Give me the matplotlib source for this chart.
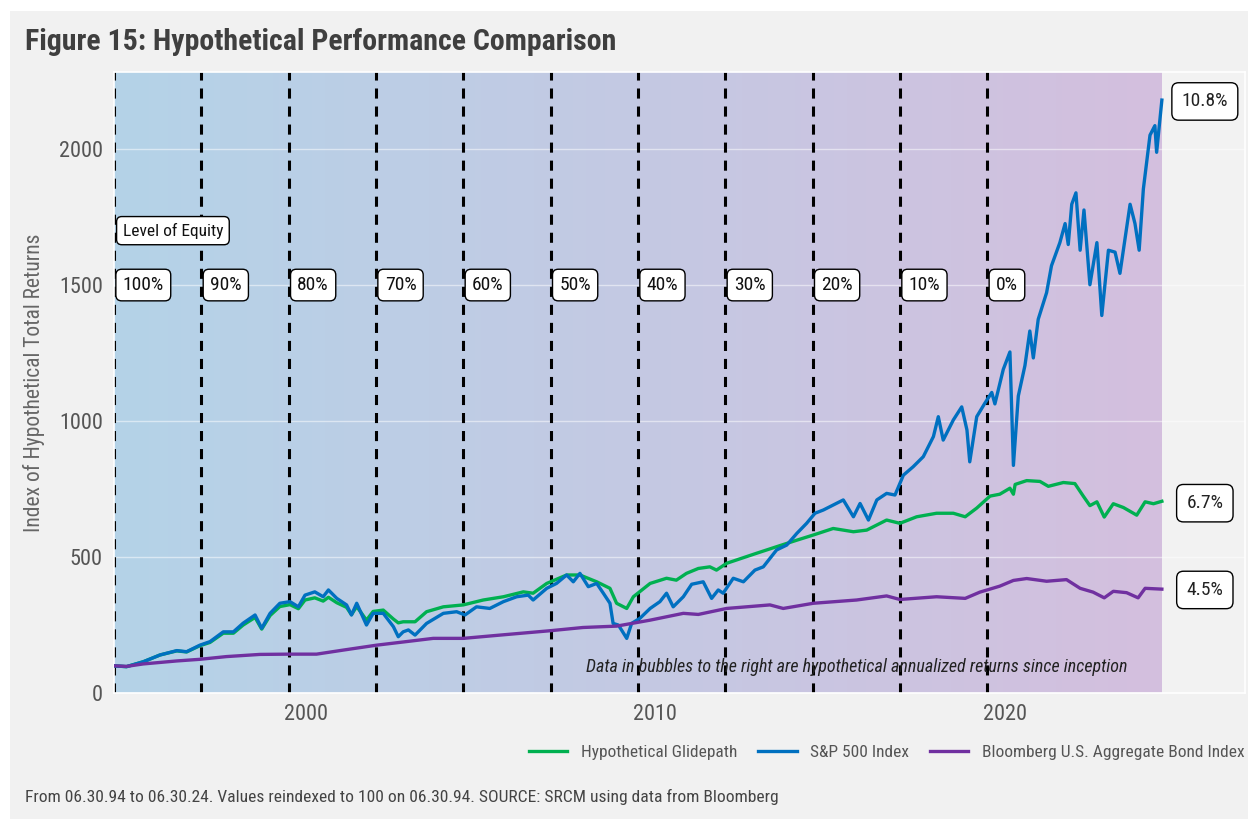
import matplotlib.pyplot as plt
import numpy as np
from matplotlib.patches import Rectangle
from matplotlib import font_manager

names = set(f.name for f in font_manager.fontManager.ttflist)
cands = ['DejaVu Sans Condensed', 'Roboto Condensed', 'Liberation Sans Narrow', 'Open Sans Condensed', 'Roboto']
fams = [c for c in cands if c in names] + ['DejaVu Sans']
plt.rcParams['font.family'] = fams

# values (decimal year, index level)
sp_years = [1994.5, 1994.86, 1995.34, 1995.82, 1996.3, 1996.58, 1996.96, 1997.25, 1997.63, 1997.92,
            1998.2, 1998.54, 1998.73, 1998.97, 1999.25, 1999.54, 1999.78, 1999.97, 2000.25, 2000.49,
            2000.64, 2000.88, 2001.16, 2001.3, 2001.45, 2001.73, 2001.92, 2002.21, 2002.5, 2002.64,
            2002.78, 2002.93, 2003.12, 2003.45, 2003.93, 2004.31, 2004.55, 2004.88, 2005.26, 2005.65,
            2006.03, 2006.36, 2006.5, 2006.89, 2007.17, 2007.46, 2007.65, 2007.84, 2008.08, 2008.32,
            2008.51, 2008.7, 2008.79, 2008.94, 2009.03, 2009.18, 2009.32, 2009.56, 2009.85, 2010.13,
            2010.32, 2010.51, 2010.8, 2011.04, 2011.37, 2011.61, 2011.8, 2011.94, 2012.23, 2012.52,
            2012.85, 2013.09, 2013.47, 2013.76, 2014.05, 2014.33, 2014.57, 2014.81, 2015.09, 2015.38,
            2015.67, 2015.86, 2016.1, 2016.34, 2016.62, 2016.86, 2017.1, 2017.38, 2017.67, 2017.96,
            2018.1, 2018.24, 2018.53, 2018.77, 2018.92, 2019.0, 2019.2, 2019.43, 2019.63, 2019.72,
            2019.96, 2020.15, 2020.25, 2020.39, 2020.58, 2020.72, 2020.82, 2020.96, 2021.2, 2021.34,
            2021.58, 2021.73, 2021.82, 2021.92, 2022.04, 2022.16, 2022.27, 2022.44, 2022.64, 2022.78,
            2022.97, 2023.16, 2023.3, 2023.59, 2023.73, 2023.85, 2023.97, 2024.16, 2024.3, 2024.35,
            2024.5]
sp_vals = [100, 97, 115, 140, 156, 152, 176, 189, 225, 225,
           257, 287, 238, 293, 330, 336, 317, 360, 372, 354,
           379, 348, 324, 287, 330, 250, 293, 293, 244, 207,
           225, 232, 213, 256, 293, 299, 287, 317, 311, 336,
           354, 360, 342, 385, 403, 434, 409, 440, 391, 403,
           367, 330, 256, 250, 232, 201, 256, 275, 311, 336,
           367, 317, 354, 400, 409, 348, 379, 367, 422, 409,
           452, 464, 526, 544, 587, 624, 661, 673, 691, 710,
           648, 697, 636, 710, 734, 728, 801, 832, 869, 943,
           1016, 930, 1004, 1052, 967, 850, 1016, 1065, 1105, 1063,
           1190, 1254, 837, 1092, 1204, 1331, 1232, 1374, 1472, 1571,
           1656, 1726, 1649, 1797, 1839, 1628, 1776, 1501, 1656, 1388,
           1628, 1621, 1543, 1797, 1726, 1628, 1853, 2051, 2086, 1988,
           2180]

glide_years = [1994.5, 1994.86, 1995.34, 1995.82, 1996.3, 1996.58, 1996.96, 1997.25, 1997.63, 1997.92,
               1998.2, 1998.54, 1998.73, 1998.97, 1999.25, 1999.54, 1999.78, 1999.97, 2000.25, 2000.49,
               2000.64, 2000.88, 2001.16, 2001.3, 2001.45, 2001.73, 2001.92, 2002.21, 2002.5, 2002.64,
               2002.78, 2003.12, 2003.45, 2003.93, 2004.5, 2005.07, 2005.65, 2006.22, 2006.5, 2006.89,
               2007.46, 2007.84, 2008.32, 2008.7, 2008.89, 2009.18, 2009.37, 2009.85, 2010.32, 2010.6,
               2010.89, 2011.23, 2011.56, 2011.75, 2012.04, 2012.9, 2013.47, 2014.05, 2014.52, 2015.09,
               2015.67, 2016.05, 2016.62, 2017.0, 2017.48, 2018.05, 2018.53, 2018.87, 2019.2, 2019.58,
               2019.86, 2020.15, 2020.25, 2020.3, 2020.63, 2021.01, 2021.25, 2021.68, 2022.01, 2022.25,
               2022.44, 2022.64, 2022.85, 2023.11, 2023.4, 2023.78, 2024.02, 2024.26, 2024.5]
glide_vals = [100, 97, 115, 140, 155, 151, 174, 186, 220, 220,
              250, 278, 235, 285, 318, 325, 310, 342, 350, 338,
              352, 332, 315, 288, 318, 268, 300, 305, 272, 258,
              262, 262, 299, 317, 324, 342, 354, 372, 367, 403,
              434, 434, 409, 385, 330, 311, 354, 403, 422, 415,
              440, 458, 464, 452, 477, 514, 538, 562, 581, 605,
              593, 599, 636, 624, 648, 661, 661, 648, 680, 724,
              731, 753, 731, 767, 781, 778, 760, 774, 770, 724,
              689, 703, 647, 696, 682, 654, 703, 696, 705]

bond_years = [1994.5, 1994.86, 1995.34, 1996.3, 1996.96, 1997.72, 1998.68, 1999.5, 2000.3, 2001.07,
              2002.02, 2002.93, 2003.64, 2004.5, 2005.55, 2006.98, 2007.93, 2008.89, 2009.85, 2010.8,
              2011.23, 2012.04, 2013.28, 2013.66, 2014.52, 2015.76, 2016.62, 2017.0, 2018.05, 2018.87,
              2019.29, 2019.86, 2020.25, 2020.63, 2021.2, 2021.77, 2022.16, 2022.53, 2022.85, 2023.11,
              2023.49, 2023.82, 2024.02, 2024.5]
bond_vals = [100, 98, 107, 118, 124, 134, 142, 143, 143, 158,
             176, 190, 201, 201, 213, 229, 241, 246, 268, 293,
             289, 311, 324, 311, 330, 342, 357, 344, 354, 348,
             371, 393, 414, 421, 411, 417, 385, 371, 350, 374,
             369, 350, 385, 382]

level_years = [1994.5, 1997, 1999.5, 2002, 2004.5, 2007, 2009.5, 2012, 2014.5, 2017, 2019.5]
level_labels = ['100%', '90%', '80%', '70%', '60%', '50%', '40%', '30%', '20%', '10%', '0%']

end_labels = ['10.8%', '6.7%', '4.5%']
end_vals = [2175, 698, 379]

fig = plt.figure(figsize=(12.48, 8.19), dpi=100, facecolor='white')
fig.patches.append(Rectangle((0.008, 0.0), 0.992, 0.987, transform=fig.transFigure,
                             facecolor='#f1f1f1', edgecolor='none', zorder=-10))
ax = fig.add_axes([0.0913, 0.1538, 0.9063, 0.7582])
ax.set_facecolor('#f2f2f2')

xmin, xmax = 1994.5, 2026.88
ymax = 2283
ax.set_xlim(xmin, xmax)
ax.set_ylim(0, ymax)

# background gradient blue -> purple
c0 = np.array([180, 211, 232]) / 255
c1 = np.array([212, 191, 222]) / 255
t = np.linspace(0, 1, 256)
grad = (c0[None, :] * (1 - t[:, None]) + c1[None, :] * t[:, None])[None, :, :]
ax.imshow(grad, extent=[1994.5, 2024.5, 0, ymax], aspect='auto', zorder=0, interpolation='bilinear')

ax.set_yticks([0, 500, 1000, 1500, 2000])
ax.set_xticks([2000, 2010, 2020])
ax.grid(axis='y', color='white', lw=1, alpha=0.5, zorder=0.5)
ax.tick_params(length=0, labelsize=16, labelcolor='#555555', pad=8)
for s in ax.spines.values():
    s.set_color('white')
    s.set_linewidth(1.2)

box = dict(boxstyle='round,pad=0.35,rounding_size=0.3', facecolor='white', edgecolor='black', lw=1)
for x in level_years:
    ax.axvline(x, color='black', lw=2.2, ls=(0, (3.3, 2.6)), zorder=2)
for x, lab in zip(level_years, level_labels):
    ax.text(x + 0.25, 1500, lab, ha='left', va='center', fontsize=14, color='#111111', zorder=5, bbox=box)
ax.text(1994.75, 1700, 'Level of Equity', ha='left', va='center', fontsize=12.5, color='#111111', zorder=5,
        bbox=box)

ax.plot(glide_years, glide_vals, color='#00b050', lw=2.4, zorder=3, label='Hypothetical Glidepath')
ax.plot(sp_years, sp_vals, color='#0070c0', lw=2.4, zorder=3, label='S&P 500 Index')
ax.plot(bond_years, bond_vals, color='#7030a0', lw=2.4, zorder=3, label='Bloomberg U.S. Aggregate Bond Index')

for lab, v in zip(end_labels, end_vals):
    ax.text(2025.73, v, lab, ha='center', va='center', fontsize=14, color='#222222', zorder=5,
            bbox=dict(boxstyle='round,pad=0.5,rounding_size=0.35', facecolor='white', edgecolor='black', lw=1))

ax.text(2023.53, 96, 'Data in bubbles to the right are hypothetical annualized returns since inception',
        ha='right', va='center', fontsize=13, style='italic', color='#222222', zorder=4)

fig.text(0.02, 0.949, 'Figure 15: Hypothetical Performance Comparison', fontsize=21.5, fontweight='bold',
         color='#3f3f3f', ha='left', va='center')
fig.text(0.027, 1 - 383 / 819, 'Index of Hypothetical Total Returns', rotation=90, fontsize=15.5,
         color='#666666', ha='center', va='center')
fig.text(0.02, 1 - 797 / 819,
         'From 06.30.94 to 06.30.24. Values reindexed to 100 on 06.30.94. SOURCE: SRCM using data from Bloomberg',
         fontsize=12.6, color='#444444', ha='left', va='center')

fig.legend(loc='center right', bbox_to_anchor=(0.9976, 1 - 752 / 819), ncol=3, frameon=False,
           fontsize=12.5, handlelength=2.2, columnspacing=1.2, labelcolor='#555555',
           borderaxespad=0, borderpad=0)

plt.savefig('out.png', dpi=100, facecolor=fig.get_facecolor())
